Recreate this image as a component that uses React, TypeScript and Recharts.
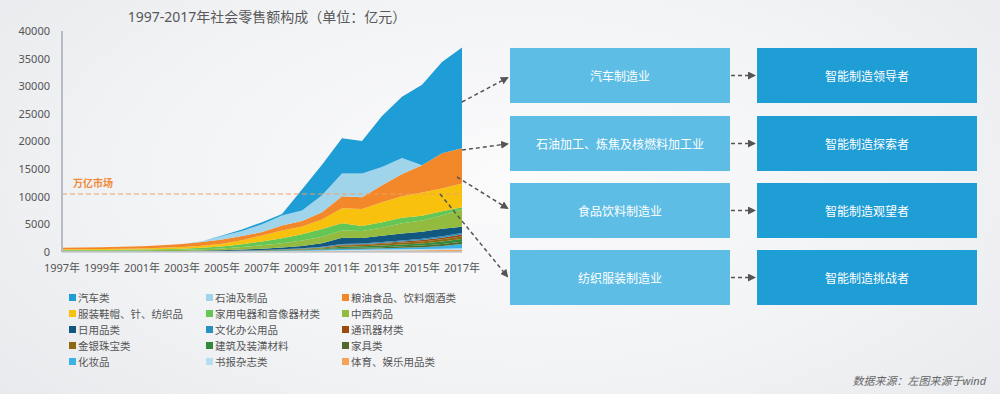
import React from 'react';
import { AreaChart, Area, XAxis, YAxis, ReferenceLine } from 'recharts';

const years = ['1997年','1998年','1999年','2000年','2001年','2002年','2003年','2004年','2005年','2006年','2007年','2008年','2009年','2010年','2011年','2012年','2013年','2014年','2015年','2016年','2017年'];

const autos = [0,0,0,0,0,0,0,0,100,300,400,300,3800,5500,6400,5900,9200,11100,14600,16500,18200];
const petroleum = [0,0,0,0,0,0,0,150,650,900,1400,1800,1900,3100,4100,4300,3300,2900,0,0,0];
const grainFood = [250,280,300,350,400,450,550,650,750,750,600,900,1000,1300,2200,2100,3100,4000,4900,6400,6400];
const clothing = [150,160,170,200,220,250,300,400,500,750,1100,1400,1400,1700,2700,3100,3600,3900,4200,4100,4300];
const appliances = [100,100,110,120,130,160,200,250,350,500,700,900,1100,1400,1300,900,1000,1000,900,800,400];
const medicine = [130,140,140,140,150,170,200,250,350,450,600,800,1000,1200,1330,1250,1440,1850,2000,2400,3150];
const dailyGoods = [40,40,45,45,45,50,60,85,100,180,250,320,430,650,1100,1000,1150,1250,1300,1350,1100];
const office = [10,10,10,12,13,15,17,20,25,30,40,50,70,100,150,160,180,200,220,250,280];
const telecom = [5,5,5,6,6,7,8,10,12,15,20,30,40,60,100,110,150,200,250,300,350];
const jewelry = [5,5,5,6,7,8,10,12,15,25,40,60,100,150,250,260,300,330,350,400,450];
const building = [5,5,5,6,7,8,10,12,15,20,30,50,80,120,250,260,300,350,400,450,500];
const furniture = [5,5,5,6,7,8,10,12,15,20,30,40,60,80,150,160,200,250,300,350,400];
const cosmetics = [15,15,16,18,20,22,25,30,35,45,60,80,100,140,200,210,240,280,330,500,800];
const books = [15,15,16,18,20,22,25,30,35,45,55,70,90,110,150,160,180,200,220,250,300];
const sports = [20,20,22,25,28,30,35,40,50,65,80,100,130,170,220,230,260,290,310,340,370];

const yTicks = [0,5000,10000,15000,20000,25000,30000,35000,40000];
const marketLine = 10500;

// legend order (top of stack first)
const series = [
  { key: 'autos', name: '汽车类', color: '#1e9dd6', values: autos },
  { key: 'petroleum', name: '石油及制品', color: '#9fd4eb', values: petroleum },
  { key: 'grainFood', name: '粮油食品、饮料烟酒类', color: '#f3882a', values: grainFood },
  { key: 'clothing', name: '服装鞋帽、针、纺织品', color: '#f7c10d', values: clothing },
  { key: 'appliances', name: '家用电器和音像器材类', color: '#63c655', values: appliances },
  { key: 'medicine', name: '中西药品', color: '#93bb3f', values: medicine },
  { key: 'dailyGoods', name: '日用品类', color: '#11577f', values: dailyGoods },
  { key: 'office', name: '文化办公用品', color: '#2b8fc1', values: office },
  { key: 'telecom', name: '通讯器材类', color: '#9b4a12', values: telecom },
  { key: 'jewelry', name: '金银珠宝类', color: '#8c6a13', values: jewelry },
  { key: 'building', name: '建筑及装潢材料', color: '#2f8a3c', values: building },
  { key: 'furniture', name: '家具类', color: '#506b2b', values: furniture },
  { key: 'cosmetics', name: '化妆品', color: '#3cb2e6', values: cosmetics },
  { key: 'books', name: '书报杂志类', color: '#b7def0', values: books },
  { key: 'sports', name: '体育、娱乐用品类', color: '#f4a25c', values: sports },
];

const industries = ['汽车制造业', '石油加工、炼焦及核燃料加工业', '食品饮料制造业', '纺织服装制造业'];
const roles = ['智能制造领导者', '智能制造探索者', '智能制造观望者', '智能制造挑战者'];

const data = years.map((y, i) => {
  const row: any = { year: y };
  series.forEach((s) => { row[s.key] = s.values[i]; });
  return row;
});

const stackOrder = [...series].reverse();

const FONT = '"Noto Sans", "Noto Sans CJK SC", sans-serif';

const boxTops = [48, 116, 183, 250];
const BOX_H = 55;

export default function App() {
  return (
    <div style={{ position: 'absolute', left: 0, top: 0, width: 1000, height: 394, overflow: 'hidden', fontFamily: FONT,
      background: 'radial-gradient(ellipse 70% 90% at 52% 45%, #fbfbfc 0%, #f2f3f5 55%, #e7e9ec 100%)' }}>
      <div style={{ position: 'absolute', left: 5, top: 6, width: 524, textAlign: 'center', fontSize: 14, lineHeight: '22px', color: '#585858' }}>
        1997-2017年社会零售额构成（单位：亿元）
      </div>
      <div style={{ position: 'absolute', left: 0, top: 0 }}>
        <AreaChart width={480} height={290} data={data} margin={{ top: 31, right: 18, left: 0, bottom: 8 }}>
          <XAxis dataKey="year" interval={1} tickLine={false} tickSize={0} tickMargin={12}
            axisLine={{ stroke: '#c3c8cf', strokeWidth: 1.5 }} height={30}
            tick={{ fontSize: 11, fill: '#555' }} />
          <YAxis domain={[0, 40000]} ticks={yTicks} width={62} tickLine={false} tickSize={0} tickMargin={12}
            axisLine={{ stroke: '#b5bcc6', strokeWidth: 2 }} tick={{ fontSize: 11, fill: '#555' }} />
          {stackOrder.map((s) => (
            <Area key={s.key} type="linear" dataKey={s.key} name={s.name} stackId="1"
              stroke="none" fill={s.color} fillOpacity={1} isAnimationActive={false} />
          ))}
          <ReferenceLine y={marketLine} stroke="#f0a064" strokeDasharray="5 3" strokeWidth={1}
            label={(props: any) => {
              const vb = props.viewBox || {};
              return (
                <text x={(vb.x || 0) + 11} y={(vb.y || 0) - 7} fill="#f08a3a" fontSize={10} fontWeight={600}>万亿市场</text>
              );
            }} />
        </AreaChart>
      </div>

      {/* legend */}
      {series.map((s, i) => {
        const col = i % 3;
        const row = Math.floor(i / 3);
        const left = [69, 206, 342][col];
        const top = 297 + row * 16;
        return (
          <div key={s.key} style={{ position: 'absolute', left, top: top - 8, height: 16, display: 'flex', alignItems: 'center', fontSize: 10.5, color: '#555', whiteSpace: 'nowrap' }}>
            <span style={{ display: 'inline-block', width: 7, height: 7, background: s.color, marginRight: 2 }} />
            {s.name}
          </div>
        );
      })}

      {/* boxes */}
      {industries.map((t, i) => (
        <div key={t} style={{ position: 'absolute', left: 510, top: boxTops[i], width: 220, height: BOX_H, background: '#5dbde5',
          color: '#fff', fontSize: 12, display: 'flex', alignItems: 'center', justifyContent: 'center' }}>{t}</div>
      ))}
      {roles.map((t, i) => (
        <div key={t} style={{ position: 'absolute', left: 757, top: boxTops[i], width: 220, height: BOX_H, background: '#1f9dd5',
          color: '#fff', fontSize: 12, display: 'flex', alignItems: 'center', justifyContent: 'center' }}>{t}</div>
      ))}

      <svg width={1000} height={394} style={{ position: 'absolute', left: 0, top: 0, pointerEvents: 'none' }}>
        <defs>
          <marker id="ah" markerWidth="8" markerHeight="8" refX="6" refY="4" orient="auto" markerUnits="userSpaceOnUse">
            <path d="M0,0 L8,4 L0,8 z" fill="#555" />
          </marker>
        </defs>
        <g stroke="#555" strokeWidth={1.5} strokeDasharray="4 3" fill="none">
          <line x1={462} y1={102} x2={507} y2={78} markerEnd="url(#ah)" />
          <line x1={462} y1={150} x2={507} y2={144} markerEnd="url(#ah)" />
          <line x1={457} y1={177} x2={507} y2={208} markerEnd="url(#ah)" />
          <line x1={440} y1={194} x2={507} y2={276} markerEnd="url(#ah)" />
          {boxTops.map((t) => (
            <line key={t} x1={731} y1={t + BOX_H / 2} x2={754} y2={t + BOX_H / 2} markerEnd="url(#ah)" />
          ))}
        </g>
      </svg>

      <div style={{ position: 'absolute', right: 14, top: 372, fontSize: 11, fontStyle: 'italic', color: '#666' }}>
        数据来源：左图来源于wind
      </div>
    </div>
  );
}
